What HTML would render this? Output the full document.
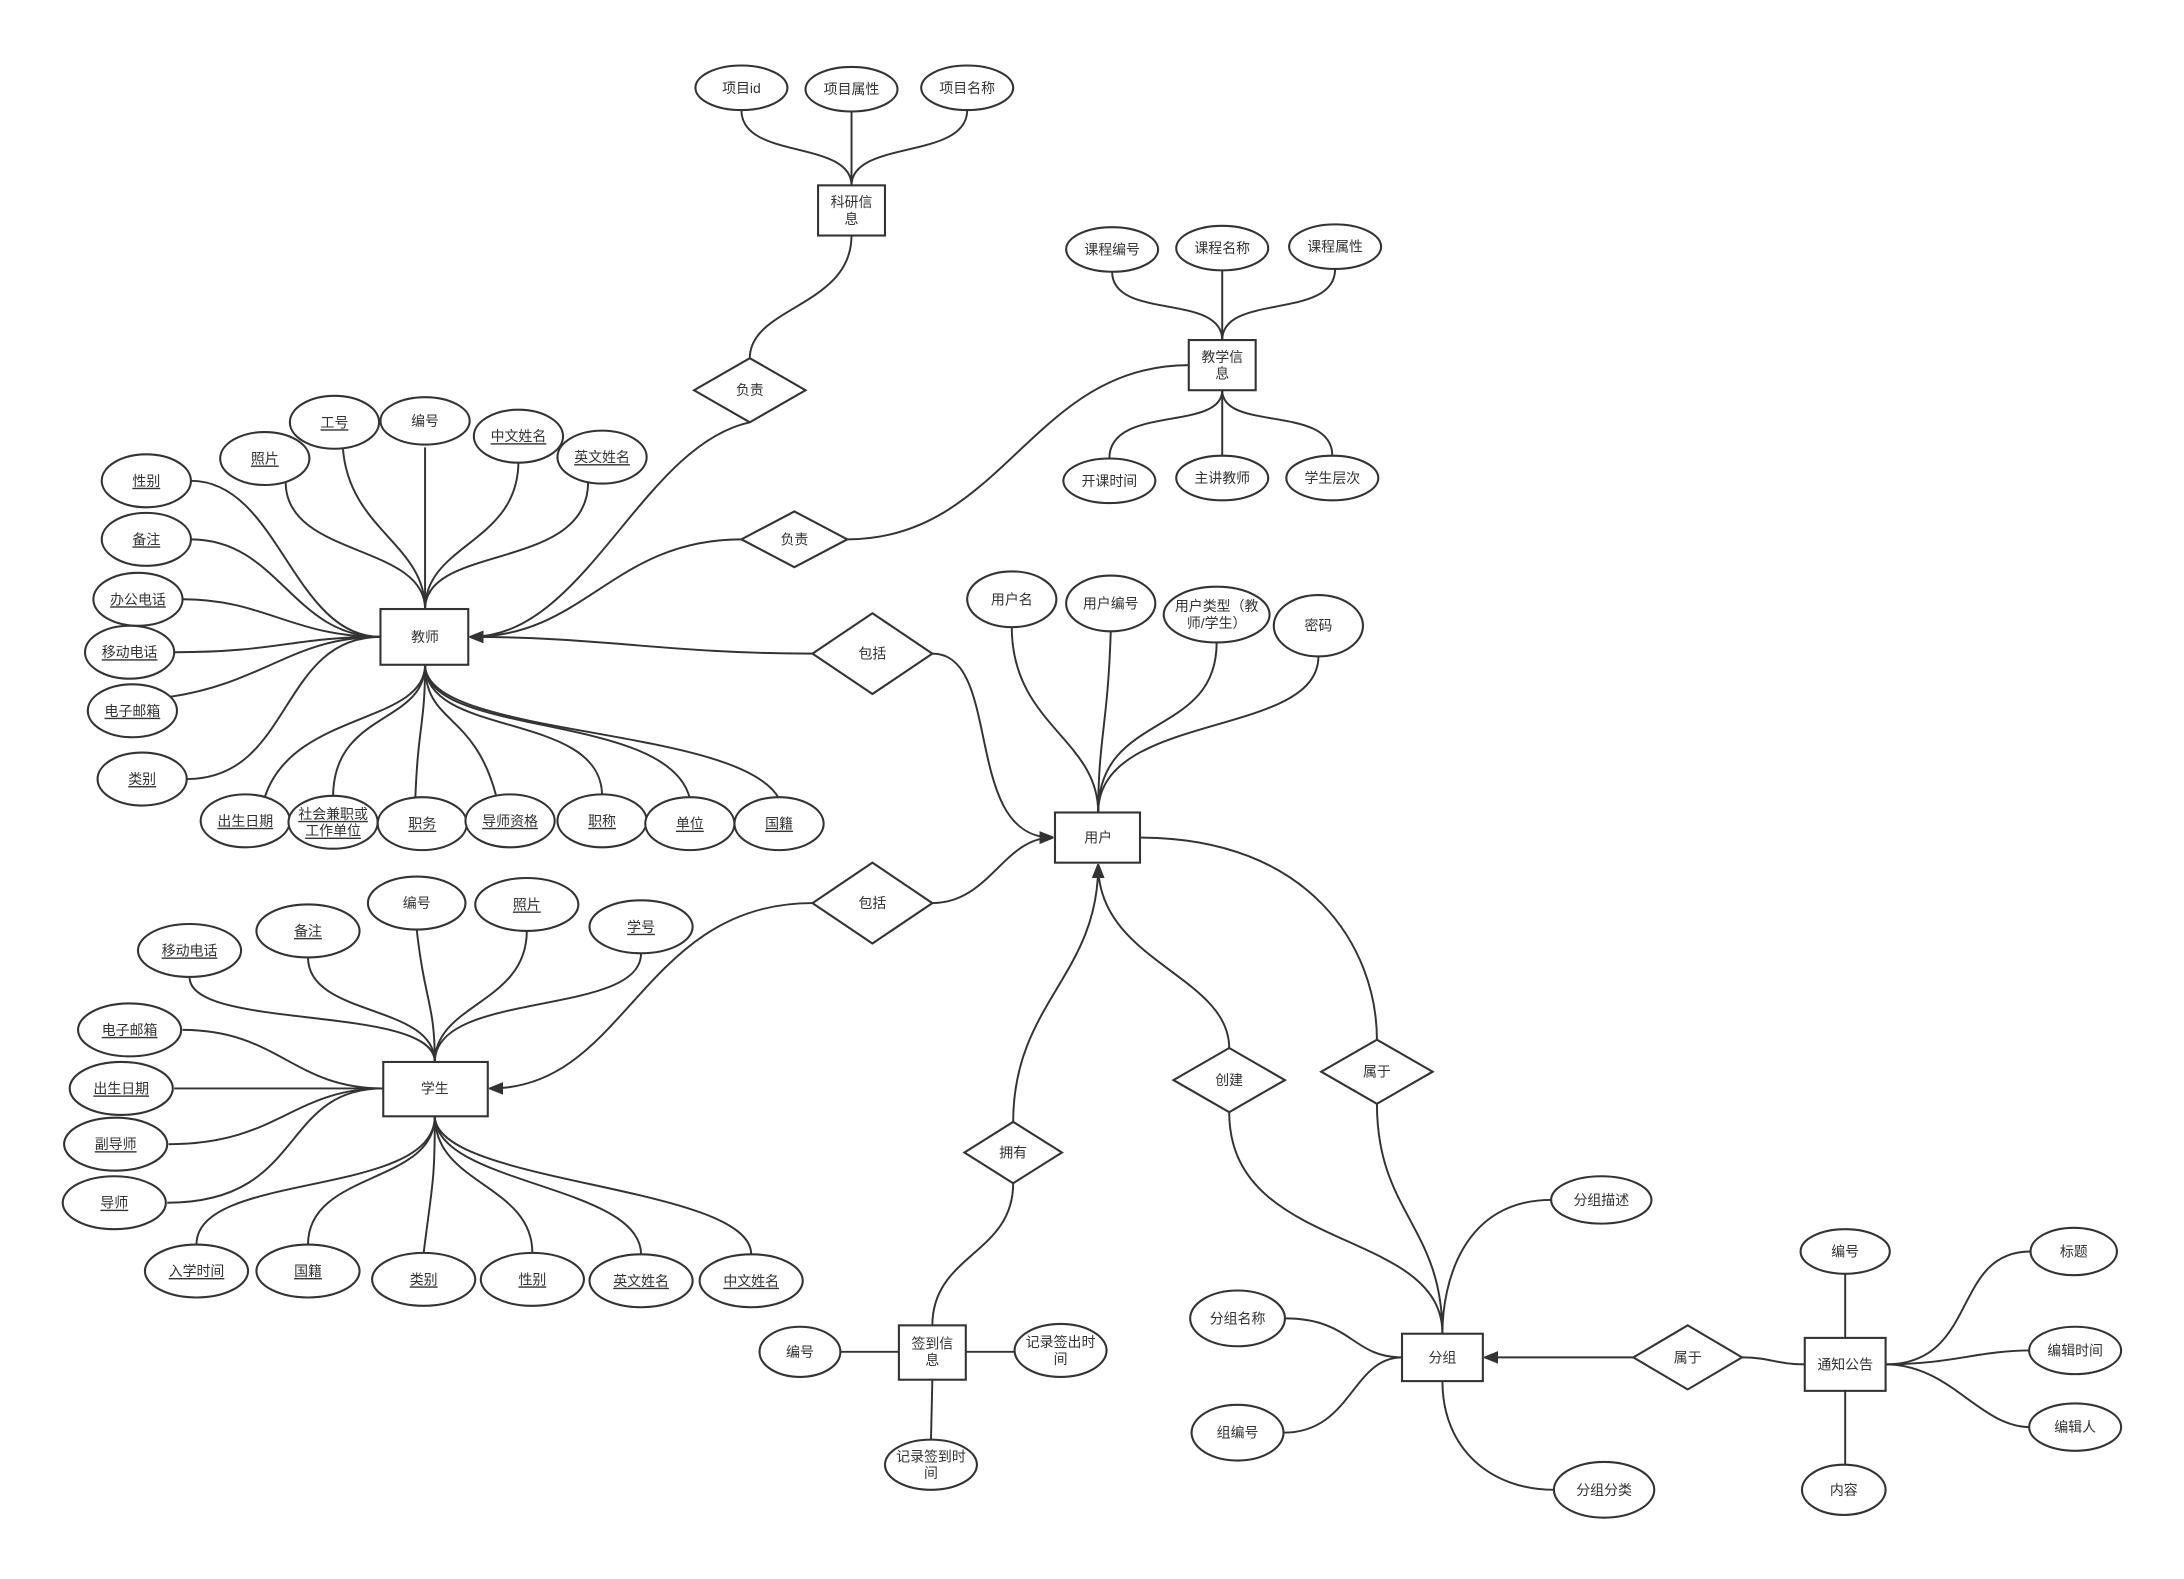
<!DOCTYPE html>
<html><head><meta charset="utf-8"><style>
html,body{margin:0;padding:0;background:#fff;}
svg{display:block}
text{font-family:"Liberation Sans","Noto Sans CJK SC",sans-serif;font-size:10px;fill:#333;text-anchor:middle;dominant-baseline:central}
.u{text-decoration:underline}
ellipse,rect,polygon{fill:#fff;stroke:#333;stroke-width:1.5}
path{fill:none;stroke:#333;stroke-width:1.4}
</style></head><body>
<svg width="2184" height="1579" viewBox="0 0 1567 1133" preserveAspectRatio="xMinYMin meet" xmlns="http://www.w3.org/2000/svg">
<defs><marker id="a" markerWidth="10" markerHeight="10" refX="9" refY="5" orient="auto" markerUnits="userSpaceOnUse"><path d="M0 1 L10 5 L0 9 Z" style="fill:#333;stroke:#333;stroke-width:1"/></marker></defs>

<g>
<path d="M532 79 C532 115 611 100 611 133"/>
<path d="M611 80 L611 133"/>
<path d="M694 79 C694 115 611 100 611 133"/>
<path d="M611 169 C611 220 538 220 538 257"/>
<path d="M538 303 C460 320 420 457 338 457" marker-end="url(#a)"/>
<path d="M798 195 C798 230 877 210 877 244"/>
<path d="M877 194 L877 244"/>
<path d="M958 193 C958 230 877 210 877 244"/>
<path d="M877 280 C877 310 796 290 796 329"/>
<path d="M877 280 L877 327"/>
<path d="M877 280 C877 310 956 290 956 327"/>
<path d="M608 387 C720 387 740 262 853 262"/>
<path d="M532 387 C440 387 420 457 338 457" marker-end="url(#a)"/>
<path d="M583 469 C480 469 430 457 338 457" marker-end="url(#a)"/>
<path d="M669 469 C720 469 690 601 755 601" marker-end="url(#a)"/>
<path d="M205 346 C205 400 305 390 305 437"/>
<path d="M246 321 C250 380 305 390 305 437"/>
<path d="M305 321 L305 437"/>
<path d="M372 331 C372 390 305 390 305 437"/>
<path d="M422 346 C422 410 305 390 305 437"/>
<path d="M137 345 C200 345 210 457 273 457"/>
<path d="M137 387 C200 387 210 457 273 457"/>
<path d="M131 430 C190 430 210 457 273 457"/>
<path d="M125 468 C200 468 210 457 273 457"/>
<path d="M122 500 C190 490 210 457 273 457"/>
<path d="M134 559 C210 559 200 457 273 457"/>
<path d="M190 572 C210 510 305 520 305 477"/>
<path d="M239 572 C239 510 305 520 305 477"/>
<path d="M298 573 C300 520 305 520 305 477"/>
<path d="M356 571 C340 510 305 520 305 477"/>
<path d="M432 571 C432 510 305 530 305 477"/>
<path d="M495 573 C480 510 305 530 305 477"/>
<path d="M559 573 C530 520 305 530 305 477"/>
<path d="M726 450 C726 520 788 530 788 583"/>
<path d="M797 453 C795 520 788 530 788 583"/>
<path d="M873 461 C873 530 788 510 788 583"/>
<path d="M946 471 C946 530 788 510 788 583"/>
<path d="M669 648 C710 648 720 601 755 601" marker-end="url(#a)"/>
<path d="M583 648 C460 648 450 781 352 781" marker-end="url(#a)"/>
<path d="M136 701 C136 740 312 720 312 762"/>
<path d="M221 687 C221 730 312 720 312 762"/>
<path d="M299 667 C305 720 312 720 312 762"/>
<path d="M378 668 C378 720 312 720 312 762"/>
<path d="M460 684 C460 730 312 710 312 762"/>
<path d="M131 739 C200 739 210 781 275 781"/>
<path d="M125 781 L275 781"/>
<path d="M121 821 C200 821 210 781 275 781"/>
<path d="M120 863 C220 863 200 781 275 781"/>
<path d="M141 893 C141 840 312 860 312 801"/>
<path d="M221 893 C221 840 312 850 312 801"/>
<path d="M304 899 C310 850 312 850 312 801"/>
<path d="M382 899 C382 850 312 850 312 801"/>
<path d="M460 900 C460 850 312 850 312 801"/>
<path d="M539 900 C539 850 312 850 312 801"/>
<path d="M727 805 C727 720 788 700 788 621" marker-end="url(#a)"/>
<path d="M727 849 C727 900 669 900 669 951"/>
<path d="M603 970 L645 970"/>
<path d="M693 970 L729 970"/>
<path d="M669 990 L668 1034"/>
<path d="M882 752 C882 700 788 690 788 621" marker-end="url(#a)"/>
<path d="M882 798 C882 900 1035 880 1035 957"/>
<path d="M818 601 C940 601 988 680 988 746"/>
<path d="M988 792 C988 870 1035 880 1035 957"/>
<path d="M1113 861 C1050 861 1035 920 1035 957"/>
<path d="M922 946 C970 946 970 974 1006 974"/>
<path d="M921 1028 C970 1028 970 974 1006 974"/>
<path d="M1035 991 C1035 1040 1070 1069 1115 1069"/>
<path d="M1172 974 L1066 974" marker-end="url(#a)"/>
<path d="M1250 974 C1270 974 1275 979 1295 979"/>
<path d="M1324 914 L1324 960"/>
<path d="M1324 998 L1324 1052"/>
<path d="M1353 979 C1420 979 1400 898 1457 898"/>
<path d="M1353 979 C1400 979 1420 969 1457 969"/>
<path d="M1353 979 C1400 979 1420 1024 1457 1024"/>
</g>

<ellipse cx="532" cy="63" rx="33" ry="16"/><text x="532" y="63">项目id</text>
<ellipse cx="611" cy="64" rx="33" ry="16"/><text x="611" y="64">项目属性</text>
<ellipse cx="694" cy="63" rx="33" ry="16"/><text x="694" y="63">项目名称</text>
<rect x="587" y="133" width="48" height="36"/><text x="611" y="145">科研信</text><text x="611" y="157">息</text>
<polygon points="538,257 578,280 538,303 498,280"/><text x="538" y="280">负责</text>

<ellipse cx="798" cy="179" rx="33" ry="16"/><text x="798" y="179">课程编号</text>
<ellipse cx="877" cy="178" rx="33" ry="16"/><text x="877" y="178">课程名称</text>
<ellipse cx="958" cy="177" rx="33" ry="16"/><text x="958" y="177">课程属性</text>
<rect x="853" y="244" width="48" height="36"/><text x="877" y="256">教学信</text><text x="877" y="268">息</text>
<ellipse cx="796" cy="345" rx="33" ry="16"/><text x="796" y="345">开课时间</text>
<ellipse cx="877" cy="343" rx="33" ry="16"/><text x="877" y="343">主讲教师</text>
<ellipse cx="956" cy="343" rx="33" ry="16"/><text x="956" y="343">学生层次</text>
<polygon points="570,367 608,387 570,407 532,387"/><text x="570" y="387">负责</text>
<polygon points="626,440 669,469 626,498 583,469"/><text x="626" y="469">包括</text>

<rect x="273" y="437" width="63" height="40"/><text x="305" y="457">教师</text>
<ellipse cx="105" cy="345" rx="32" ry="19"/><text class="u" x="105" y="345">性别</text>
<ellipse cx="105" cy="387" rx="32" ry="19"/><text class="u" x="105" y="387">备注</text>
<ellipse cx="99" cy="430" rx="32" ry="19"/><text class="u" x="99" y="430">办公电话</text>
<ellipse cx="93" cy="468" rx="32" ry="19"/><text class="u" x="93" y="468">移动电话</text>
<ellipse cx="95" cy="510" rx="32" ry="19"/><text class="u" x="95" y="510">电子邮箱</text>
<ellipse cx="102" cy="559" rx="32" ry="19"/><text class="u" x="102" y="559">类别</text>
<ellipse cx="190" cy="329" rx="32" ry="19"/><text class="u" x="190" y="329">照片</text>
<ellipse cx="240" cy="303" rx="32" ry="19"/><text class="u" x="240" y="303">工号</text>
<ellipse cx="305" cy="302" rx="32" ry="17"/><text x="305" y="302">编号</text>
<ellipse cx="372" cy="313" rx="32" ry="19"/><text class="u" x="372" y="313">中文姓名</text>
<ellipse cx="432" cy="328" rx="32" ry="19"/><text class="u" x="432" y="328">英文姓名</text>
<ellipse cx="176" cy="589" rx="32" ry="19"/><text class="u" x="176" y="589">出生日期</text>
<ellipse cx="239" cy="590" rx="32" ry="19"/><text class="u" x="239" y="584">社会兼职或</text><text class="u" x="239" y="596">工作单位</text>
<ellipse cx="303" cy="591" rx="32" ry="19"/><text class="u" x="303" y="591">职务</text>
<ellipse cx="366" cy="589" rx="32" ry="19"/><text class="u" x="366" y="589">导师资格</text>
<ellipse cx="432" cy="589" rx="32" ry="19"/><text class="u" x="432" y="589">职称</text>
<ellipse cx="495" cy="591" rx="32" ry="19"/><text class="u" x="495" y="591">单位</text>
<ellipse cx="559" cy="591" rx="32" ry="19"/><text class="u" x="559" y="591">国籍</text>

<ellipse cx="726" cy="430" rx="32" ry="20"/><text x="726" y="430">用户名</text>
<ellipse cx="797" cy="433" rx="32" ry="20"/><text x="797" y="433">用户编号</text>
<ellipse cx="873" cy="441" rx="38" ry="20"/><text x="873" y="435">用户类型（教</text><text x="873" y="447">师/学生）</text>
<ellipse cx="946" cy="449" rx="32" ry="22"/><text x="946" y="449">密码</text>
<rect x="757" y="583" width="61" height="36"/><text x="788" y="601">用户</text>
<polygon points="626,619 669,648 626,677 583,648"/><text x="626" y="648">包括</text>

<rect x="275" y="762" width="75" height="39"/><text x="312" y="781">学生</text>
<ellipse cx="136" cy="682" rx="37" ry="19"/><text class="u" x="136" y="682">移动电话</text>
<ellipse cx="221" cy="668" rx="37" ry="19"/><text class="u" x="221" y="668">备注</text>
<ellipse cx="299" cy="648" rx="35" ry="19"/><text x="299" y="648">编号</text>
<ellipse cx="378" cy="649" rx="37" ry="19"/><text class="u" x="378" y="649">照片</text>
<ellipse cx="460" cy="665" rx="37" ry="19"/><text class="u" x="460" y="665">学号</text>
<ellipse cx="93" cy="739" rx="37" ry="19"/><text class="u" x="93" y="739">电子邮箱</text>
<ellipse cx="87" cy="781" rx="37" ry="19"/><text class="u" x="87" y="781">出生日期</text>
<ellipse cx="83" cy="821" rx="37" ry="19"/><text class="u" x="83" y="821">副导师</text>
<ellipse cx="82" cy="863" rx="37" ry="19"/><text class="u" x="82" y="863">导师</text>
<ellipse cx="141" cy="912" rx="37" ry="19"/><text class="u" x="141" y="912">入学时间</text>
<ellipse cx="221" cy="912" rx="37" ry="19"/><text class="u" x="221" y="912">国籍</text>
<ellipse cx="304" cy="918" rx="37" ry="19"/><text class="u" x="304" y="918">类别</text>
<ellipse cx="382" cy="918" rx="37" ry="19"/><text class="u" x="382" y="918">性别</text>
<ellipse cx="460" cy="919" rx="37" ry="19"/><text class="u" x="460" y="919">英文姓名</text>
<ellipse cx="539" cy="919" rx="37" ry="19"/><text class="u" x="539" y="919">中文姓名</text>

<polygon points="727,805 762,827 727,849 692,827"/><text x="727" y="827">拥有</text>
<rect x="645" y="951" width="48" height="39"/><text x="669" y="964">签到信</text><text x="669" y="976">息</text>
<ellipse cx="574" cy="970" rx="29" ry="18"/><text x="574" y="970">编号</text>
<ellipse cx="761" cy="969" rx="33" ry="19"/><text x="761" y="963">记录签出时</text><text x="761" y="975">间</text>
<ellipse cx="668" cy="1051" rx="33" ry="18"/><text x="668" y="1045">记录签到时</text><text x="668" y="1057">间</text>

<polygon points="882,752 922,775 882,798 842,775"/><text x="882" y="775">创建</text>
<polygon points="988,746 1028,769 988,792 948,769"/><text x="988" y="769">属于</text>
<rect x="1006" y="957" width="58" height="34"/><text x="1035" y="974">分组</text>
<ellipse cx="1149" cy="861" rx="36" ry="17"/><text x="1149" y="861">分组描述</text>
<ellipse cx="888" cy="946" rx="34" ry="20"/><text x="888" y="946">分组名称</text>
<ellipse cx="888" cy="1028" rx="33" ry="20"/><text x="888" y="1028">组编号</text>
<ellipse cx="1151" cy="1069" rx="36" ry="20"/><text x="1151" y="1069">分组分类</text>
<polygon points="1211,951 1250,974 1211,997 1172,974"/><text x="1211" y="974">属于</text>

<rect x="1295" y="960" width="58" height="38"/><text x="1324" y="979">通知公告</text>
<ellipse cx="1324" cy="898" rx="32" ry="16"/><text x="1324" y="898">编号</text>
<ellipse cx="1488" cy="898" rx="31" ry="17"/><text x="1488" y="898">标题</text>
<ellipse cx="1489" cy="969" rx="33" ry="17"/><text x="1489" y="969">编辑时间</text>
<ellipse cx="1489" cy="1024" rx="33" ry="17"/><text x="1489" y="1024">编辑人</text>
<ellipse cx="1323" cy="1069" rx="30" ry="18"/><text x="1323" y="1069">内容</text>
</svg>
</body></html>
